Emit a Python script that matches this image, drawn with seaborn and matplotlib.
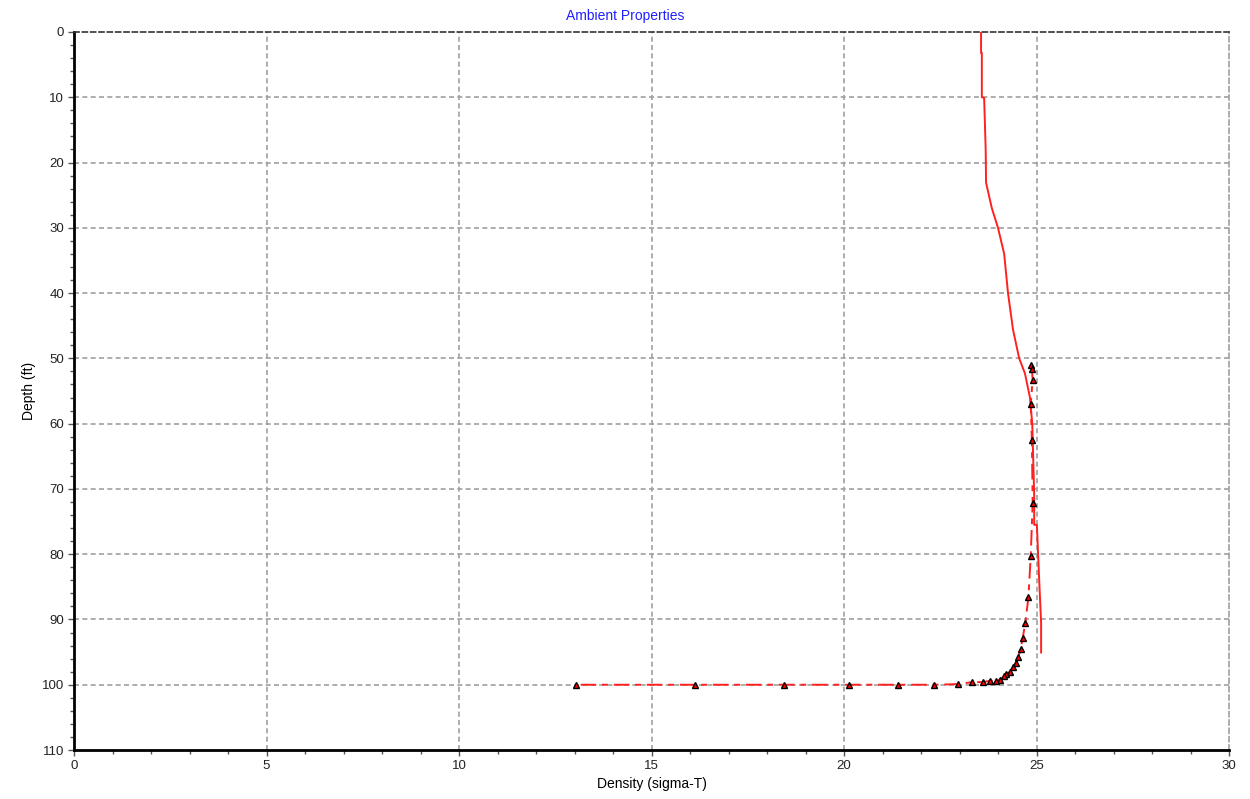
import numpy as np
import pandas as pd
import matplotlib
matplotlib.use("Agg")
import matplotlib.pyplot as plt
from matplotlib.ticker import MultipleLocator
import seaborn as sns

# Ambient density profile (sigma-T vs depth in ft)
ambient_density = [23.56, 23.56, 23.58, 23.58, 23.64, 23.68, 23.69, 23.84, 24.00,
                   24.16, 24.26, 24.39, 24.55, 24.70, 24.83, 24.89, 24.94,
                   24.94, 25.01, 25.07, 25.12, 25.12]
ambient_depth = [0.0, 3.2, 3.2, 10.0, 10.1, 18.0, 23.1, 27.0, 30.0,
                 34.0, 40.0, 45.6, 50.0, 52.3, 56.0, 60.0, 71.0,
                 75.5, 75.5, 84.0, 90.5, 95.1]

# Plume trajectory density / depth
plume_density = [24.87, 24.88, 24.90, 24.85, 24.88, 24.90, 24.85, 24.79, 24.71,
                 24.64, 24.59, 24.53, 24.47, 24.40, 24.31, 24.22, 24.16, 24.05,
                 23.96, 23.79, 23.60, 23.32, 22.97, 22.35, 21.41, 20.14,
                 18.45, 16.14, 13.04]
plume_depth = [51.0, 51.6, 53.3, 57.0, 62.5, 72.2, 80.3, 86.6, 90.5,
               92.9, 94.5, 95.7, 96.6, 97.3, 98.0, 98.4, 98.7, 99.2,
               99.4, 99.4, 99.6, 99.6, 99.9, 100.0, 100.0, 100.0,
               100.0, 100.0, 100.0]

ambient = pd.DataFrame({"density": ambient_density, "depth": ambient_depth})
plume = pd.DataFrame({"density": plume_density, "depth": plume_depth})

sns.set_theme(style="white")
plt.rcParams["font.family"] = ["Liberation Sans", "DejaVu Sans"]

fig = plt.figure(figsize=(12.5, 7.99), dpi=100)
ax = fig.add_axes([0.0592, 0.0613, 0.9240, 0.8987])

grid_kw = dict(color="#a0a0a0", linestyle=(0, (3, 2)), linewidth=1.2)
for xv in range(5, 30, 5):
    ax.axvline(xv, zorder=0, **grid_kw)
for yv in range(10, 110, 10):
    ax.axhline(yv, zorder=0, **grid_kw)

sns.lineplot(data=ambient, x="density", y="depth", sort=False, estimator=None,
             color="#ff2020", linewidth=1.4, ax=ax, zorder=3)
sns.lineplot(data=plume, x="density", y="depth", sort=False, estimator=None,
             color="#ff2020", linewidth=1.4, linestyle=(0, (8, 3, 3, 3)),
             marker="^", markersize=5, markerfacecolor="#ff0000",
             markeredgecolor="black", markeredgewidth=1.0, ax=ax, zorder=4)

ax.set_xlim(0, 30)
ax.set_ylim(110, 0)
ax.xaxis.set_major_locator(MultipleLocator(5))
ax.xaxis.set_minor_locator(MultipleLocator(1))
ax.yaxis.set_major_locator(MultipleLocator(10))
ax.yaxis.set_minor_locator(MultipleLocator(2))
ax.tick_params(which="major", direction="out", length=4, width=1, color="#555555",
               labelsize=9.5, labelcolor="#222222", pad=3, bottom=True, left=True)
ax.tick_params(which="minor", direction="out", length=3, width=1, color="#555555",
               bottom=True, left=True)

for side in ("left", "bottom"):
    ax.spines[side].set_color("black")
    ax.spines[side].set_linewidth(2)
ax.spines["top"].set_color("#333333")
ax.spines["top"].set_linestyle((0, (3, 2)))
ax.spines["top"].set_linewidth(1.2)
ax.spines["right"].set_color("#a0a0a0")
ax.spines["right"].set_linestyle((0, (3, 2)))
ax.spines["right"].set_linewidth(1.2)

ax.set_xlabel("Density (sigma-T)", fontsize=10, color="black", labelpad=4)
ax.set_ylabel("Depth (ft)", fontsize=10, color="black", labelpad=4)
fig.text(0.5, 0.98, "Ambient Properties", fontsize=10, color="#2020ff",
         ha="center", va="center")

fig.savefig("out.png", dpi=100)
